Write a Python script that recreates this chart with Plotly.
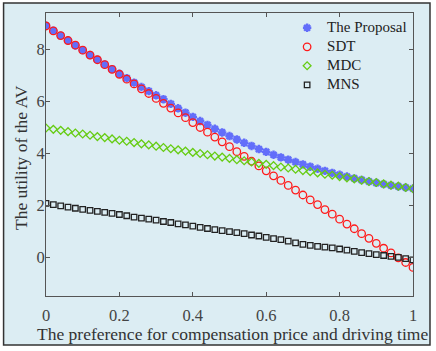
import plotly.graph_objects as go

# preference weight (x axis)
pref = [0.00, 0.02, 0.04, 0.06, 0.08, 0.10, 0.12, 0.14, 0.16, 0.18,
        0.20, 0.22, 0.24, 0.26, 0.28, 0.30, 0.32, 0.34, 0.36, 0.38,
        0.40, 0.42, 0.44, 0.46, 0.48, 0.50, 0.52, 0.54, 0.56, 0.58,
        0.60, 0.62, 0.64, 0.66, 0.68, 0.70, 0.72, 0.74, 0.76, 0.78,
        0.80, 0.82, 0.84, 0.86, 0.88, 0.90, 0.92, 0.94, 0.96, 0.98, 1.00]

# utility of the AV for each scheme
proposal = [8.91, 8.72, 8.53, 8.34, 8.15, 7.97, 7.78, 7.60, 7.42, 7.24,
            7.06, 6.89, 6.72, 6.55, 6.39, 6.23, 6.08, 5.90, 5.73, 5.56,
            5.40, 5.24, 5.09, 4.94, 4.80, 4.66, 4.53, 4.40, 4.28, 4.16,
            4.05, 3.94, 3.84, 3.75, 3.66, 3.57, 3.48, 3.40, 3.32, 3.24,
            3.17, 3.10, 3.03, 2.97, 2.91, 2.86, 2.81, 2.76, 2.72, 2.68, 2.64]
sdt = [8.90, 8.71, 8.53, 8.34, 8.16, 7.97, 7.78, 7.60, 7.41, 7.23,
       7.04, 6.85, 6.67, 6.48, 6.30, 6.11, 5.92, 5.74, 5.55, 5.37,
       5.18, 4.99, 4.81, 4.62, 4.44, 4.25, 4.06, 3.88, 3.69, 3.51,
       3.32, 3.13, 2.95, 2.76, 2.58, 2.39, 2.20, 2.02, 1.83, 1.65,
       1.46, 1.27, 1.09, 0.90, 0.72, 0.53, 0.34, 0.16, -0.03, -0.21, -0.40]
mdc = [4.97, 4.92, 4.88, 4.83, 4.78, 4.74, 4.69, 4.64, 4.60, 4.55,
       4.50, 4.46, 4.41, 4.36, 4.32, 4.27, 4.22, 4.17, 4.13, 4.08,
       4.03, 3.99, 3.94, 3.89, 3.85, 3.80, 3.75, 3.71, 3.66, 3.61,
       3.57, 3.52, 3.47, 3.43, 3.38, 3.33, 3.29, 3.24, 3.19, 3.15,
       3.10, 3.05, 3.01, 2.96, 2.91, 2.87, 2.82, 2.77, 2.73, 2.68, 2.63]
mns = [2.07, 2.02, 1.97, 1.92, 1.88, 1.84, 1.80, 1.76, 1.72, 1.68,
       1.64, 1.59, 1.54, 1.50, 1.46, 1.42, 1.37, 1.33, 1.28, 1.24,
       1.19, 1.14, 1.10, 1.06, 1.02, 0.98, 0.94, 0.90, 0.85, 0.81,
       0.76, 0.71, 0.67, 0.61, 0.55, 0.49, 0.45, 0.41, 0.38, 0.35,
       0.31, 0.27, 0.22, 0.17, 0.13, 0.09, 0.06, 0.03, -0.01, -0.06, -0.11]

x_ticks = [0, 0.2, 0.4, 0.6, 0.8, 1]
x_labels = ["0", "0.2", "0.4", "0.6", "0.8", "1"]
y_ticks = [0, 2, 4, 6, 8]

x_title = "The preference for compensation price and driving time"
y_title = "The utility of the AV"

bg = "#dcedf3"
font = "Liberation Serif"


def leg(name):
    # bigger text than the legend font, so the rows stay tight
    return "<span style='font-size:15px'>" + name + "</span>"


fig = go.Figure()
fig.add_trace(go.Scatter(x=pref, y=proposal, mode="markers", name=leg("The Proposal"),
                         marker=dict(symbol="asterisk-open", size=7,
                                     line=dict(color="#0000f0", width=2.4))))
fig.add_trace(go.Scatter(x=pref, y=sdt, mode="markers", name=leg("SDT"),
                         marker=dict(symbol="circle-open", size=7.5, color="#ff1a1a",
                                     line=dict(color="#ff1a1a", width=1.3))))
fig.add_trace(go.Scatter(x=pref, y=mdc, mode="markers", name=leg("MDC"),
                         marker=dict(symbol="diamond-open", size=6, color="#66cc14",
                                     line=dict(color="#66cc14", width=1.3))))
fig.add_trace(go.Scatter(x=pref, y=mns, mode="markers", name=leg("MNS"),
                         marker=dict(symbol="square-open", size=5.5, color="#222222",
                                     line=dict(color="#222222", width=1.3))))

# outer frame of the figure
fig.add_shape(type="rect", xref="paper", yref="paper",
              x0=-0.1156, x1=1.0463, y0=-0.1731, y1=1.0353,
              line=dict(color="#333333", width=1.5), fillcolor=bg, layer="below")

# axis titles as annotations so their position can be pinned
fig.add_annotation(text=x_title, xref="paper", yref="paper", x=0.509, y=-0.1335,
                   xanchor="center", yanchor="middle", showarrow=False,
                   font=dict(family=font, size=17.5, color="#333333"))
fig.add_annotation(text=y_title, xref="paper", yref="paper", x=-0.068, y=0.4876,
                   xanchor="center", yanchor="middle", showarrow=False, textangle=-90,
                   font=dict(family=font, size=17.5, color="#333333"))

axis_common = dict(showgrid=False, zeroline=False, showline=True, mirror="ticks",
                   linecolor="#555555", linewidth=1, ticks="inside", ticklen=4,
                   tickcolor="#555555", tickfont=dict(family=font, size=16.5, color="#444444"))

fig.update_xaxes(range=[0, 1], tickvals=x_ticks, ticktext=x_labels, ticklabelstandoff=4,
                 **axis_common)
fig.update_yaxes(range=[-1.5, 9.4], tickvals=y_ticks, ticklabelstandoff=-3,
                 **axis_common)

fig.update_layout(
    width=436, height=351,
    margin=dict(l=45.5, r=23, t=13, b=55, autoexpand=False),
    paper_bgcolor="white", plot_bgcolor=bg,
    showlegend=True,
    legend=dict(x=0.657, y=0.999, xanchor="left", yanchor="top",
                bgcolor="rgba(0,0,0,0)", borderwidth=0, tracegroupgap=0,
                font=dict(family=font, size=11, color="#222222")),
)

fig.write_html("out.html", config={"displayModeBar": False},
               post_script="document.body.style.margin='0';")
